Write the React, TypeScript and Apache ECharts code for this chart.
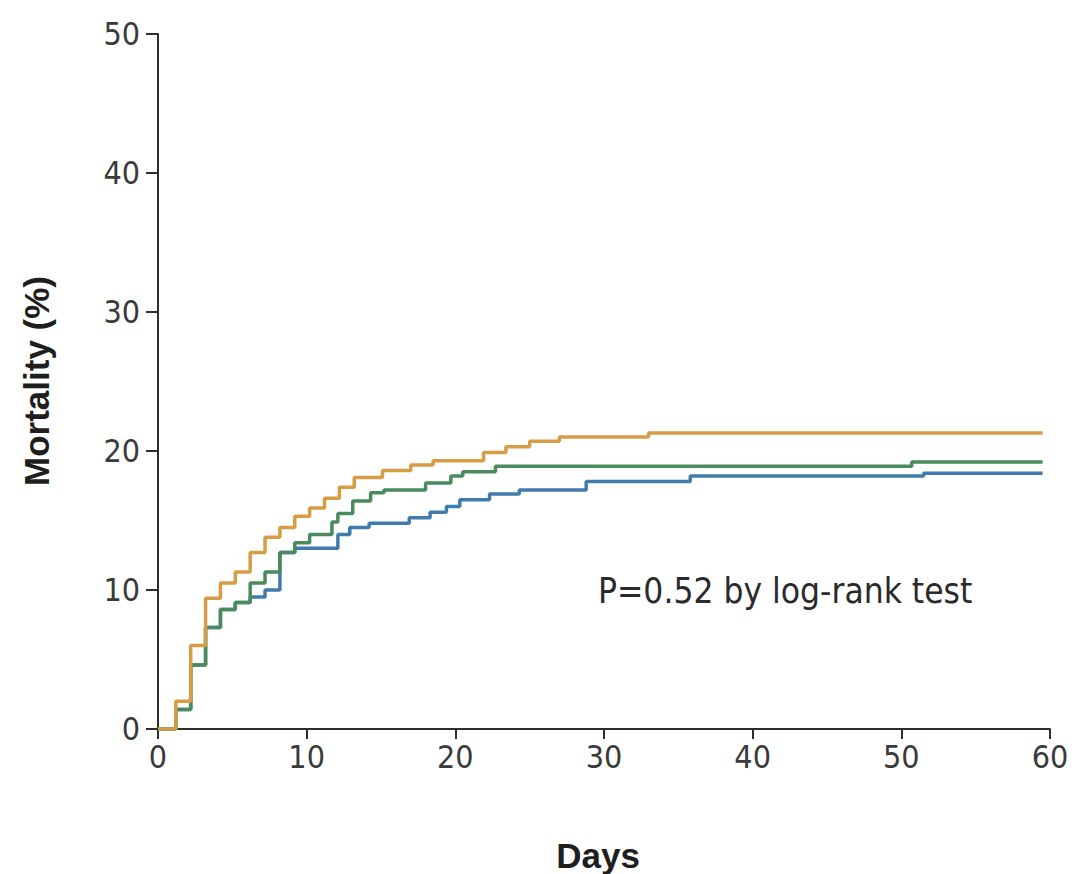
import React, { useEffect, useRef } from "react";
import * as echarts from "echarts";

// Kaplan–Meier style cumulative mortality (%)
const orangeDays = [0, 1.2, 2.2, 3.2, 4.2, 5.2, 6.2, 7.2, 8.2, 9.2, 10.2, 11.2, 12.2, 13.2, 15.1, 17, 18.5, 21.9, 23.4, 25, 27, 33, 59.5];
const orangeMortality = [0, 2.0, 6.0, 9.4, 10.5, 11.3, 12.7, 13.8, 14.5, 15.3, 15.9, 16.6, 17.4, 18.1, 18.6, 19.0, 19.3, 19.9, 20.3, 20.7, 21.0, 21.3, 21.3];

const greenDays = [0, 1.2, 2.2, 3.2, 4.2, 5.2, 6.2, 7.2, 8.2, 9.2, 10.2, 11.7, 12.1, 13.1, 14.3, 15.2, 18, 19.7, 20.5, 22.7, 50.7, 59.5];
const greenMortality = [0, 1.4, 4.6, 7.3, 8.6, 9.1, 10.5, 11.3, 12.7, 13.4, 14.0, 14.9, 15.5, 16.4, 17.0, 17.2, 17.7, 18.2, 18.5, 18.9, 19.2, 19.2];

const blueDays = [0, 1.2, 2.2, 3.2, 4.2, 5.2, 6.2, 7.2, 8.2, 9.2, 12.1, 12.9, 14.2, 16.9, 18.3, 19.4, 20.3, 22.3, 24.3, 28.8, 35.8, 51.5, 59.5];
const blueMortality = [0, 1.4, 4.6, 7.3, 8.6, 9.1, 9.5, 10.0, 12.7, 13.0, 14.0, 14.5, 14.8, 15.2, 15.6, 16.0, 16.5, 16.9, 17.2, 17.8, 18.2, 18.4, 18.4];

const xTicks = [0, 10, 20, 30, 40, 50, 60];
const yTicks = [0, 10, 20, 30, 40, 50];

const annotation = "P=0.52 by log-rank test";
const xTitle = "Days";
const yTitle = "Mortality (%)";

const pair = (d: number[], v: number[]) => d.map((x, i) => [x, v[i]]);

const tickFont = "'DejaVu Sans Condensed', 'DejaVu Sans', sans-serif";
const titleFont = "'Liberation Sans', Arial, sans-serif";

export default function App() {
  const ref = useRef<HTMLDivElement>(null);
  useEffect(() => {
    if (!ref.current) return;
    const chart = echarts.init(ref.current, undefined, { renderer: "svg" });
    const axisLine = { show: true, lineStyle: { color: "#2e2e2e", width: 2 } };
    chart.setOption({
      animation: false,
      backgroundColor: "#ffffff",
      grid: { left: 158, right: 25, top: 34, bottom: 145 },
      xAxis: {
        type: "value",
        min: xTicks[0],
        max: xTicks[xTicks.length - 1],
        interval: 10,
        axisLine,
        axisTick: { show: true, length: 10, lineStyle: { color: "#2e2e2e", width: 2 } },
        axisLabel: { color: "#3a3a3a", fontSize: 32, fontFamily: tickFont, margin: 12 },
        splitLine: { show: false },
      },
      yAxis: {
        type: "value",
        min: yTicks[0],
        max: yTicks[yTicks.length - 1],
        interval: 10,
        axisLine,
        axisTick: { show: true, length: 12, lineStyle: { color: "#2e2e2e", width: 2 } },
        axisLabel: { color: "#3a3a3a", fontSize: 32, fontFamily: tickFont, margin: 18 },
        splitLine: { show: false },
      },
      series: [
        {
          type: "line",
          step: "end",
          data: pair(blueDays, blueMortality),
          showSymbol: false,
          lineStyle: { color: "#3f7bab", width: 3.5 },
          z: 2,
        },
        {
          type: "line",
          step: "end",
          data: pair(greenDays, greenMortality),
          showSymbol: false,
          lineStyle: { color: "#4a8a5c", width: 3.5 },
          z: 3,
        },
        {
          type: "line",
          step: "end",
          data: pair(orangeDays, orangeMortality),
          showSymbol: false,
          lineStyle: { color: "#d69d45", width: 3.5 },
          z: 4,
        },
      ],
      graphic: [
        {
          type: "text",
          left: 598,
          top: 573,
          style: {
            text: annotation,
            fontSize: 35,
            fontFamily: tickFont,
            fill: "#2a2a2a",
          },
        },
        {
          type: "text",
          x: 598,
          y: 855,
          style: {
            text: xTitle,
            fontSize: 35,
            fontWeight: "bold",
            fontFamily: titleFont,
            fill: "#1e1e1e",
            align: "center",
            verticalAlign: "middle",
          },
        },
        {
          type: "text",
          x: 36,
          y: 381,
          rotation: Math.PI / 2,
          style: {
            text: yTitle,
            fontSize: 35,
            fontWeight: "bold",
            fontFamily: titleFont,
            fill: "#1e1e1e",
            align: "center",
            verticalAlign: "middle",
          },
        },
      ],
    });
    return () => chart.dispose();
  }, []);
  return (
    <div
      ref={ref}
      style={{ position: "fixed", left: 0, top: 0, width: 1075, height: 874, background: "#fff" }}
    />
  );
}
